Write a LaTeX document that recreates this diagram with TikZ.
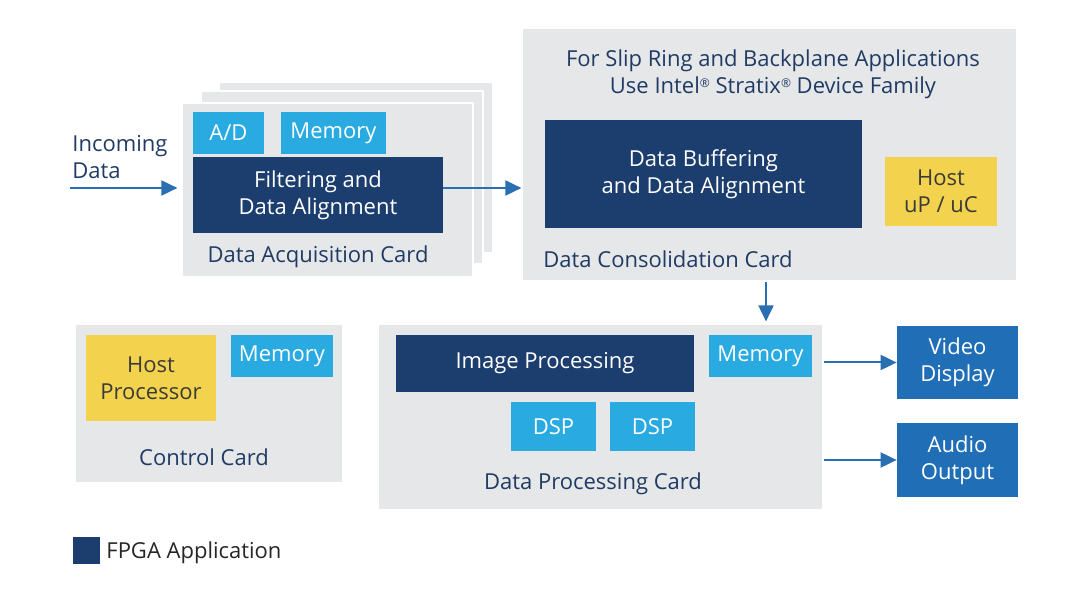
\documentclass[tikz,border=0pt]{standalone}
\usepackage{fontspec}
\setmainfont{Open Sans}
\usepackage{tikz}
\usetikzlibrary{arrows.meta, calc, positioning}
\definecolor{CardGray}{HTML}{E6E7E9}
\definecolor{FpgaBlue}{HTML}{1C3E6E}
\definecolor{ChipBlue}{HTML}{29ABE2}
\definecolor{HostYellow}{HTML}{F3D24D}
\definecolor{HostText}{HTML}{3A3A3A}
\definecolor{PortBlue}{HTML}{1F6EB6}
\definecolor{FlowBlue}{HTML}{2A6FB1}
\definecolor{LabelNavy}{HTML}{1F3B63}
\providecommand{\regmark}{{\fontsize{6}{6}\selectfont\raisebox{0.9ex}{®}}}
\tikzset{
  wh/.style 2 args={minimum width=#1*0.5pt, minimum height=#2*0.5pt},
  card/.style={fill=CardGray, draw=white, line width=0.6pt, inner sep=0pt},
  fpga/.style={fill=FpgaBlue, text=white, align=center, inner sep=0pt},
  chip/.style={fill=ChipBlue, text=white, align=center, inner sep=0pt},
  host/.style={fill=HostYellow, text=HostText, align=center, inner sep=0pt},
  port/.style={fill=PortBlue, text=white, align=center, inner sep=0pt},
  cardlabel/.style={text=LabelNavy, inner sep=0pt},
  flow/.style={draw=FlowBlue, line width=1pt, -{Triangle[length=8pt,width=7.5pt]}},
}

\begin{document}
\begin{tikzpicture}[x=0.5pt, y=-0.5pt, font=\fontsize{11}{13.5}\selectfont]

	\useasboundingbox (0,0) rectangle (1080,608);

	% stacked acquisition cards
	\filldraw[fill=CardGray, draw=white, line width=0.6pt] (219,82) rectangle (493,253);
	\filldraw[fill=CardGray, draw=white, line width=0.6pt] (201,91) rectangle (483,264);
	\node[card, wh={291}{174}] (acq) at (327.5,190) {};
	\node[chip, wh={71}{42}] (ad) at (228.5,133) {A/D};
	\node[chip, wh={105}{42}] (acqmem) at (333.5,133) {Memory};
	\node[fpga, wh={250}{76}] (filter) at (318,195) {Filtering and\\Data Alignment};
	\node[cardlabel] (acqlbl) at (318,257) {Data Acquisition Card};

	\node[cardlabel, align=left, anchor=west] (inlbl) at (72,157) {Incoming\\Data};
	\coordinate (in) at (70,188);

	% consolidation card
	\node[card, wh={495}{253}] (cons) at (769.5,154.5) {};
	\node[cardlabel, align=center] (title) at (773,74.5)
		{For Slip Ring and Backplane Applications\\Use Intel\regmark{} Stratix\regmark{} Device Family};
	\node[fpga, wh={317}{108}] (buffer) at (703.5,174) {Data Buffering\\and Data Alignment};
	\node[host, wh={112}{69}] (hostuc) at (941,191.5) {Host\\uP / uC};
	\node[cardlabel, anchor=west] (conslbl) at (543,259) {Data Consolidation Card};

	% control card
	\node[card, wh={268}{159}] (ctrl) at (209,403.5) {};
	\node[host, wh={130}{86}] (hostpc) at (151,378) {Host\\Processor};
	\node[chip, wh={102}{42}] (ctrlmem) at (282,356) {Memory};
	\node[cardlabel] (ctrllbl) at (204,457) {Control Card};

	% processing card
	\node[card, wh={445}{186}] (proc) at (600.5,417) {};
	\node[fpga, wh={298}{57}] (image) at (545,363.5) {Image Processing};
	\node[chip, wh={103}{42}] (procmem) at (760.5,356) {Memory};
	\node[chip, wh={85}{49}] (dspa) at (553.5,426.5) {DSP};
	\node[chip, wh={85}{49}] (dspb) at (652.5,426.5) {DSP};
	\node[cardlabel] (proclbl) at (593,484) {Data Processing Card};

	% outputs
	\node[port, wh={121}{73}] (video) at (957.5,362.5) {Video\\Display};
	\node[port, wh={121}{74}] (audio) at (957.5,460) {Audio\\Output};

	\coordinate (dn) at (766,0);
	\draw[flow, shorten >=2pt] (in) -- (in -| acq.west);
	\draw[flow] (filter.east |- in) -- (in -| cons.west);
	\draw[flow, shorten >=1pt] (dn |- cons.south) -- (dn |- proc.north);
	\draw[flow] (proc.east |- video.west) -- (video.west);
	\draw[flow] (proc.east |- audio.west) -- (audio.west);

	% legend
	\node[fpga, wh={27}{27}] (key) at (86.5,550.5) {};
	\node[anchor=west, text=black!85, inner sep=0pt] (keylbl) at (106,553) {FPGA Application};

\end{tikzpicture}
\end{document}
